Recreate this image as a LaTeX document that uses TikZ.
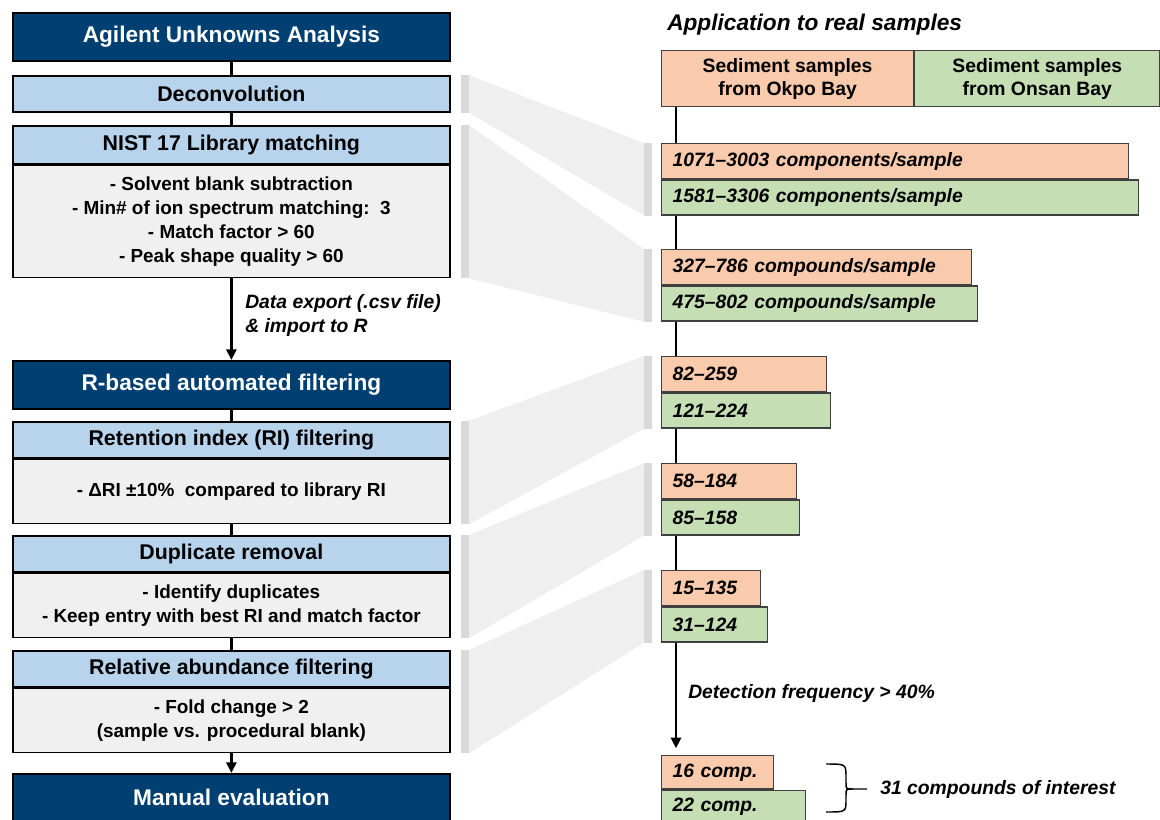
\documentclass[tikz,border=0pt]{standalone}
\usepackage{fontspec}
\setmainfont{Liberation Sans}
\usepackage{tikz}
\usetikzlibrary{arrows.meta,positioning,calc}
\definecolor{navy}{HTML}{003F72}
\definecolor{lblue}{HTML}{B8D3EC}
\definecolor{lgray}{HTML}{F0F0F0}
\definecolor{okpocol}{HTML}{F9CAAB}
\definecolor{onsancol}{HTML}{C5DEB4}
\definecolor{barcol}{HTML}{D9D9D9}
\definecolor{bandcol}{HTML}{EFEFEF}
\tikzset{
  box/.style={draw=black, line width=1.3pt, anchor=north west, minimum width=327.75pt, inner sep=0pt, align=center},
  darkbox/.style={box, fill=navy, text=white, minimum height=36pt, font=\fontsize{17}{20}\selectfont\bfseries},
  headbox/.style={box, fill=lblue, minimum height=27pt, font=\fontsize{16}{19}\selectfont\bfseries},
  bodybox/.style={box, fill=lgray, font=\fontsize{14.2}{17.8}\selectfont\bfseries},
  hdrbox/.style={draw=black!75, line width=0.9pt, anchor=north west, minimum height=42pt, inner sep=0pt, align=center, font=\fontsize{14.5}{17.25}\selectfont\bfseries},
  sample/.style={draw=black!75, line width=1pt, anchor=north west, inner xsep=8.25pt, inner ysep=0pt, minimum height=26.25pt, align=left, font=\fontsize{14.5}{17}\selectfont\bfseries\itshape},
  okpobar/.style={sample, fill=okpocol},
  onsanbar/.style={sample, fill=onsancol},
  flow/.style={line width=2.2pt},
  flowarrow/.style={flow, -{Triangle[width=7.5pt,length=8pt]}},
  sidebar/.style={fill=barcol},
  band/.style={fill=bandcol},
  note/.style={inner sep=0pt, font=\fontsize{14.5}{18}\selectfont\bfseries\itshape}
}

\begin{document}
\begin{tikzpicture}[x=0.75pt,y=-0.75pt]
\useasboundingbox (0,0) rectangle (1160,820);

% workflow
\node[darkbox] (agilent) at (12,12) {Agilent Unknowns Analysis};
\node[headbox] (decon) at (12,75) {Deconvolution};
\node[headbox, minimum height=28.5pt] (nisthead) at (12,125) {NIST 17 Library matching};
\node[bodybox, minimum height=84pt] (nistbody) at (nisthead.south west) {- Solvent blank subtraction\\- Min\# of ion spectrum matching:~~3\\- Match factor > 60\\- Peak shape quality > 60};
\node[darkbox] (rbased) at (12,360) {R-based automated filtering};
\node[headbox] (rethead) at (12,421) {Retention index (RI) filtering};
\node[bodybox, minimum height=48pt] (retbody) at (rethead.south west) {- ΔRI ±10\%~~compared to library RI};
\node[headbox] (duphead) at (12,535) {Duplicate removal};
\node[bodybox, minimum height=48pt] (dupbody) at (duphead.south west) {- Identify duplicates\\- Keep entry with best RI and match factor};
\node[headbox] (relhead) at (12,650) {Relative abundance filtering};
\node[bodybox, minimum height=48pt] (relbody) at (relhead.south west) {- Fold change > 2\\(sample vs. procedural blank)};
\node[darkbox] (manual) at (12,773) {Manual evaluation};

\draw[flow] (agilent) -- (decon);
\draw[flow] (decon) -- (nisthead);
\draw[flowarrow] (nistbody) -- (rbased);
\draw[flow] (rbased) -- (rethead);
\draw[flow] (retbody) -- (duphead);
\draw[flow] (dupbody) -- (relhead);
\draw[flowarrow] (relbody) -- (manual);
\node[note, anchor=north west, align=left] (export) at (245,294) {Data export (.csv file)\\\& import to R};

% real samples
\node[note, anchor=west, font=\fontsize{17}{20}\selectfont\bfseries\itshape] (apptitle) at (667,25) {Application to real samples};
\node[hdrbox, fill=okpocol, minimum width=189pt] (okpo) at (661,50) {Sediment samples\\from Okpo Bay};
\node[hdrbox, fill=onsancol, minimum width=183.75pt] (onsan) at (okpo.north east) {Sediment samples\\from Onsan Bay};

\node[okpobar, text width=333.75pt] (o1) at (661,143) {1071–3003 components/sample};
\node[onsanbar, text width=341.25pt] (g1) at (o1.south west) {1581–3306 components/sample};
\node[okpobar, text width=216pt] (o2) at (661,249) {327–786 compounds/sample};
\node[onsanbar, text width=220.5pt] (g2) at (o2.south west) {475–802 compounds/sample};
\node[okpobar, text width=107.25pt] (o3) at (661,356) {82–259};
\node[onsanbar, text width=110.25pt] (g3) at (o3.south west) {121–224};
\node[okpobar, text width=84.75pt] (o4) at (661,463) {58–184};
\node[onsanbar, text width=87pt] (g4) at (o4.south west) {85–158};
\node[okpobar, text width=57.75pt] (o5) at (661,570) {15–135};
\node[onsanbar, text width=63pt] (g5) at (o5.south west) {31–124};
\node[okpobar, text width=67.5pt, minimum height=25pt] (o6) at (661,755) {16 comp.};
\node[onsanbar, text width=91.5pt, minimum height=25pt] (g6) at (o6.south west) {22 comp.};

\draw[flow] ([xshift=11.25pt]okpo.south west) -- ([xshift=11.25pt]o1.north west);
\foreach \a/\b in {g1/o2, g2/o3, g3/o4, g4/o5}
  \draw[flow] ([xshift=11.25pt]\a.south west) -- ([xshift=11.25pt]\b.north west);
\draw[flowarrow, shorten >=5pt] ([xshift=11.25pt]g5.south west) -- ([xshift=11.25pt]o6.north west);
\node[note, anchor=west] (detect) at (688,693) {Detection frequency > 40\%};

% links between steps and results
\foreach \h/\b/\o/\g in {decon/decon/o1/g1, nisthead/nistbody/o2/g2, rethead/retbody/o3/g3, duphead/dupbody/o4/g4, relhead/relbody/o5/g5}
  {
    \fill[band] ([xshift=13.5pt]\h.north east) -- ([xshift=-12.75pt]\o.north west) -- ([xshift=-12.75pt]\g.south west) -- ([xshift=13.5pt]\b.south east) -- cycle;
    \fill[sidebar] ([xshift=7.5pt]\h.north east) rectangle ([xshift=13.5pt]\b.south east);
    \fill[sidebar] ([xshift=-12.75pt]\o.north west) rectangle ([xshift=-6.75pt]\g.south west);
  }

\node[note, anchor=west, inner xsep=9.75pt] (interest) at (867,789) {31 compounds of interest};
\draw[line width=1.1pt] (826,764) .. controls (846,764) .. (846,777) -- (846,783) .. controls (846,789) .. (853,789) -- (interest.west);
\draw[line width=1.1pt] (826,812) .. controls (846,812) .. (846,800) -- (846,795) .. controls (846,789) .. (853,789);
\end{tikzpicture}
\end{document}
